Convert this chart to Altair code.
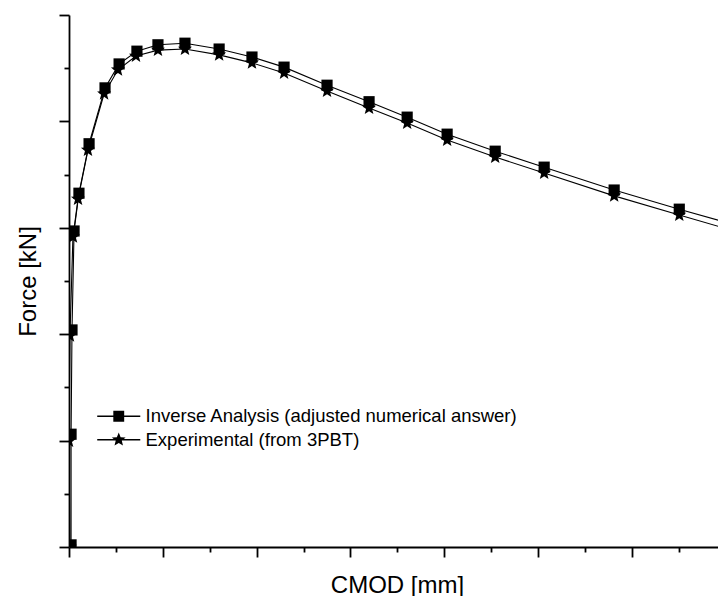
import math
import altair as alt
import pandas as pd

# ---- data ----
series_names = ["Inverse Analysis (adjusted numerical answer)", "Experimental (from 3PBT)"]

inv_cmod = [0.011, 0.011, 0.016, 0.027, 0.053, 0.107, 0.192, 0.267, 0.362, 0.474, 0.618, 0.800,
            0.975, 1.146, 1.375, 1.599, 1.802, 2.015, 2.271, 2.532, 2.905, 3.252, 3.603]
inv_force = [0.04, 2.12, 4.08, 5.94, 6.65, 7.58, 8.63, 9.08, 9.32, 9.44, 9.47, 9.36,
             9.21, 9.02, 8.68, 8.37, 8.08, 7.76, 7.44, 7.14, 6.71, 6.35, 6.00]

exp_cmod = [0.005, 0.000, 0.005, 0.021, 0.048, 0.101, 0.187, 0.261, 0.357, 0.474, 0.618, 0.800,
            0.975, 1.146, 1.375, 1.599, 1.802, 2.015, 2.271, 2.532, 2.905, 3.252, 3.603]
exp_force = [0.00, 1.99, 3.97, 5.83, 6.54, 7.46, 8.52, 8.97, 9.23, 9.34, 9.36, 9.25,
             9.10, 8.91, 8.57, 8.25, 7.97, 7.65, 7.33, 7.03, 6.60, 6.24, 5.88]

x_major = [0, 0.5, 1.0, 1.5, 2.0, 2.5, 3.0]
x_minor = [0.25, 0.75, 1.25, 1.75, 2.25, 2.75, 3.25]
y_major = [0, 2, 4, 6, 8, 10]
y_minor = [1, 3, 5, 7, 9]

# ---- table ----
rows = []
for i, (x, y) in enumerate(zip(exp_cmod, exp_force)):
    rows.append({"series": series_names[1], "cmod": x, "force": y, "idx": i, "z": 0})
for i, (x, y) in enumerate(zip(inv_cmod, inv_force)):
    rows.append({"series": series_names[0], "cmod": x, "force": y, "idx": i, "z": 1})
df = pd.DataFrame(rows)


def star_path(R, r):
    pts = []
    for k in range(10):
        a = math.radians(-90 + 36 * k)
        rad = R if k % 2 == 0 else r
        pts.append(f"{rad * math.cos(a):.3f},{rad * math.sin(a):.3f}")
    return "M" + "L".join(pts) + "Z"


FONT = "Liberation Sans"
W, H = 649, 532
XMAX = W / 187.66

# legend symbols (line + marker), size 256 -> 8 px per unit
line_part = "M-2.69,-0.08H2.69V0.08H-2.69Z"
legend_square = line_part + " M-0.68,-0.68H0.68V0.68H-0.68Z"
legend_star = line_part + " " + star_path(0.90, 0.40)
data_star = star_path(1.32, 0.56)

xscale = alt.Scale(domain=[0, XMAX], nice=False, zero=False)
yscale = alt.Scale(domain=[0, 10], nice=False, zero=False)

common_axis = dict(grid=False, labels=False, domainColor="black", tickColor="black",
                   domainWidth=1.8, tickWidth=1.8)

x_major_axis = alt.Axis(values=x_major, tickSize=10, orient="bottom", title="CMOD [mm]",
                        titleFont=FONT, titleFontSize=24, titleFontWeight="normal",
                        titleColor="black", titleX=328, titleY=45, titleAlign="center",
                        titleBaseline="alphabetic", **common_axis)
y_major_axis = alt.Axis(values=y_major, tickSize=10, orient="left", title="Force [kN]",
                        titleFont=FONT, titleFontSize=24, titleFontWeight="normal",
                        titleColor="black", titleX=-34, titleY=266, titleAngle=270,
                        titleAlign="center", titleBaseline="alphabetic", **common_axis)
x_minor_axis = alt.Axis(values=x_minor, tickSize=5, orient="bottom", title=None,
                        domain=False, **common_axis)
y_minor_axis = alt.Axis(values=y_minor, tickSize=5, orient="left", title=None,
                        domain=False, **common_axis)

base = alt.Chart(df)

lines = base.mark_line(color="black", strokeWidth=1.1, clip=True).encode(
    x=alt.X("cmod:Q", scale=xscale, axis=x_major_axis),
    y=alt.Y("force:Q", scale=yscale, axis=y_major_axis),
    detail="series:N",
    order="idx:Q",
)

points = base.mark_point(filled=True, color="black", opacity=1, size=125, clip=True).encode(
    x=alt.X("cmod:Q", scale=xscale, axis=x_minor_axis),
    y=alt.Y("force:Q", scale=yscale, axis=y_minor_axis),
    shape=alt.Shape("series:N", scale=alt.Scale(domain=series_names, range=["square", data_star]),
                    legend=None),
    order="z:Q",
)

legend_layer = base.transform_filter("false").mark_point(
    filled=True, color="black", opacity=1
).encode(
    shape=alt.Shape(
        "series:N",
        scale=alt.Scale(domain=series_names, range=[legend_square, legend_star]),
        sort=series_names,
        legend=alt.Legend(
            orient="none", legendX=40.5, legendY=392, title=None,
            labelFont=FONT, labelFontSize=18.5, labelColor="black", labelLimit=1000,
            symbolSize=256, symbolStrokeWidth=0, symbolFillColor="black",
            symbolOpacity=1, labelOffset=17.5, rowPadding=4.5, padding=0,
        ),
    ),
)

chart = alt.layer(lines, points, legend_layer).resolve_scale(
    shape="independent"
).resolve_axis(
    x="independent", y="independent"
).properties(
    width=W, height=H,
    autosize=alt.AutoSizeParams(type="none"),
    padding={"left": 69, "top": 15, "right": 0, "bottom": 49},
    background="white",
).configure_view(stroke=None)

chart.save("out.html", embed_options={"renderer": "svg", "actions": False})
